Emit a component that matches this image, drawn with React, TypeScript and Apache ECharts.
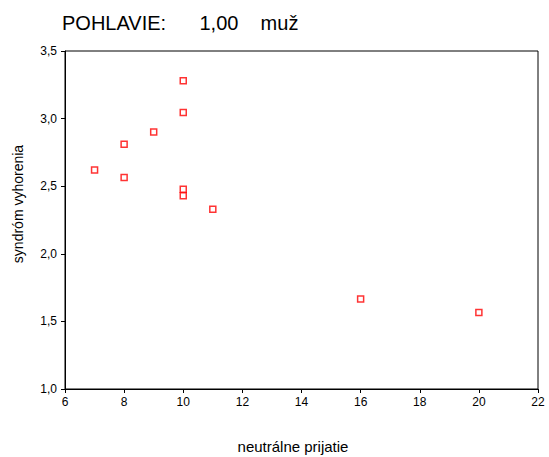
import React, { useEffect, useRef } from "react";
import * as echarts from "echarts";

const xValues = [7, 8, 8, 9, 10, 10, 10, 10, 11, 16, 20];
const yValues = [2.62, 2.81, 2.565, 2.9, 3.28, 3.045, 2.477, 2.43, 2.33, 1.665, 1.566];
const titleText = "POHLAVIE:      1,00    muž";
const xName = "neutrálne prijatie";
const yName = "syndróm vyhorenia";

export default function App() {
  const ref = useRef<HTMLDivElement>(null);
  useEffect(() => {
    if (!ref.current) return;
    const chart = echarts.init(ref.current, null, { renderer: "svg" });
    const font = "Liberation Sans, Arial, sans-serif";
    chart.setOption({
      animation: false,
      backgroundColor: "#fff",
      title: {
        text: titleText,
        left: 57,
        top: 8,
        textStyle: { fontFamily: font, fontSize: 20, fontWeight: "normal", color: "#000" },
      },
      grid: {
        left: 65,
        right: 11,
        top: 51,
        bottom: 68,
        show: true,
        borderColor: "#000",
        borderWidth: 1,
        backgroundColor: "transparent",
      },
      graphic: [
        {
          type: "text",
          x: 293,
          y: 446,
          style: {
            text: xName,
            fontFamily: font,
            fontSize: 15,
            fill: "#000",
            align: "center",
            verticalAlign: "middle",
          },
        },
        {
          type: "text",
          x: 17.5,
          y: 204,
          rotation: Math.PI / 2,
          style: {
            text: yName,
            fontFamily: font,
            fontSize: 14,
            fill: "#000",
            align: "center",
            verticalAlign: "middle",
          },
        },
      ],
      xAxis: {
        type: "value",
        min: 6,
        max: 22,
        interval: 2,
        axisLine: { show: true, lineStyle: { color: "#000", width: 1 } },
        axisTick: { show: true, length: 4, lineStyle: { color: "#000" } },
        axisLabel: { fontFamily: font, fontSize: 12, color: "#000", margin: 7, showMaxLabel: true, showMinLabel: true },
        splitLine: { show: false },
      },
      yAxis: {
        type: "value",
        min: 1,
        max: 3.5,
        interval: 0.5,
        axisLine: { show: true, lineStyle: { color: "#000", width: 1 } },
        axisTick: { show: true, length: 4, lineStyle: { color: "#000" } },
        axisLabel: {
          fontFamily: font,
          fontSize: 12,
          color: "#000",
          margin: 8,
          formatter: (v: number) => v.toFixed(1).replace(".", ","),
        },
        splitLine: { show: false },
      },
      series: [
        {
          type: "scatter",
          data: xValues.map((x, i) => [x, yValues[i]]),
          symbol: "rect",
          symbolSize: 6,
          itemStyle: { color: "#fff", borderColor: "#ff0000", borderWidth: 1.5 },
        },
      ],
    });
    return () => chart.dispose();
  }, []);
  return (
    <div
      ref={ref}
      style={{ position: "fixed", left: 0, top: 0, width: 549, height: 457 }}
    />
  );
}
